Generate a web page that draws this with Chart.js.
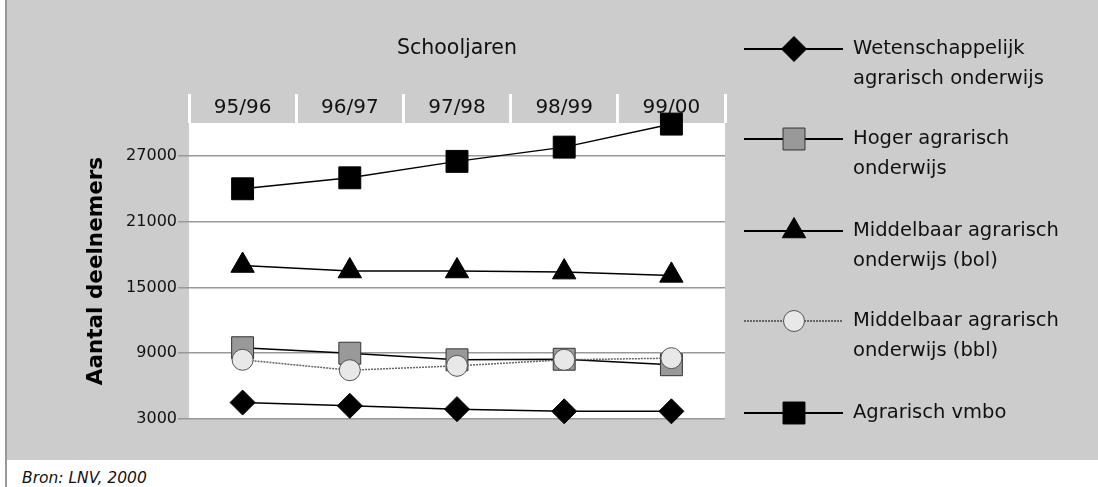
<!DOCTYPE html>
<html>
<head>
<meta charset="utf-8">
<script src="https://cdn.jsdelivr.net/npm/chart.js@4.4.1/dist/chart.umd.min.js"></script>
<style>
  html, body { margin: 0; padding: 0; background: #fff; }
  body { width: 1098px; height: 487px; position: relative; overflow: hidden; font-family: "DejaVu Sans", Verdana, sans-serif; }
  #box { position: absolute; left: 5px; top: 0; width: 1093px; height: 460px; background: #ccc; border-left: 2px solid #999; box-sizing: border-box; }
  #rule { position: absolute; left: 5px; top: 460px; width: 2px; height: 27px; background: #999; }
  #bron { position: absolute; left: 22px; top: 469px; font-size: 15.5px; font-style: italic; color: #111; }
  #grafiek { position: absolute; left: 0; top: 0; }
</style>
</head>
<body>
<div id="box"><canvas id="grafiek" width="1091" height="460"></canvas></div>
<div id="rule"></div>
<div id="bron">Bron: LNV, 2000</div>
<script>
// deelnemers agrarisch onderwijs per schooljaar

const jaren = ["95/96", "96/97", "97/98", "98/99", "99/00"];
const wetenschappelijk = [4500, 4200, 3900, 3700, 3700];
const hoger = [9500, 9000, 8400, 8450, 7950];
const mboBol = [17000, 16500, 16500, 16400, 16100];
const mboBbl = [8400, 7450, 7850, 8400, 8550];
const vmbo = [24000, 25000, 26500, 27800, 29900];
const yTicks = [3000, 9000, 15000, 21000, 27000];
const namen = [
    ["Wetenschappelijk", "agrarisch onderwijs"],
    ["Hoger agrarisch", "onderwijs"],
    ["Middelbaar agrarisch", "onderwijs (bol)"],
    ["Middelbaar agrarisch", "onderwijs (bbl)"],
    ["Agrarisch vmbo"]
];

const FONT = "'DejaVu Sans', Verdana, sans-serif";

function reeks(label, data, stijl) {
    return Object.assign({
        label,
        data,
        borderColor: "#000",
        borderWidth: 1.5,
        pointBorderColor: "#000",
        pointBorderWidth: 1,
        pointHoverRadius: 0,
        tension: 0,
        clip: false,
        order: 1
    }, stijl);
}

const datasets = [
    reeks(namen[0], wetenschappelijk, { pointStyle: "rectRot", pointRadius: 12.5, pointBackgroundColor: "#000" }),
    reeks(namen[1], hoger, { pointStyle: "rect", pointRadius: 15.5, pointBackgroundColor: "#999", pointBorderColor: "#333" }),
    reeks(namen[2], mboBol, { pointStyle: "triangle", pointRadius: 13.5, pointBackgroundColor: "#000" }),
    reeks(namen[3], mboBbl, { pointStyle: "circle", pointRadius: 10.5, pointBackgroundColor: "#e8e8e8", pointBorderColor: "#555",
        borderColor: "#666", borderDash: [2, 1], order: 0 }),
    reeks(namen[4], vmbo, { pointStyle: "rect", pointRadius: 15.5, pointBackgroundColor: "#000" })
];

// wit plotvlak
const plotvlak = {
    id: "plotvlak",
    beforeDraw(chart) {
        const a = chart.chartArea;
        chart.ctx.save();
        chart.ctx.fillStyle = "#fff";
        chart.ctx.fillRect(a.left, a.top, a.right - a.left, a.bottom - a.top);
        chart.ctx.restore();
    }
};

// legenda rechts: lijntje met marker, tekst over twee regels
const legenda = {
    id: "legenda",
    afterDraw(chart) {
        const ctx = chart.ctx;
        const rijen = [49, 139, 231, 321, 413];
        ctx.save();
        chart.data.datasets.forEach((ds, i) => {
            const y = rijen[i];
            ctx.strokeStyle = ds.borderColor;
            ctx.lineWidth = 2;
            ctx.setLineDash(ds.borderDash || []);
            ctx.beginPath();
            ctx.moveTo(737, y);
            ctx.lineTo(836, y);
            ctx.stroke();
            ctx.setLineDash([]);
            ctx.fillStyle = ds.pointBackgroundColor;
            ctx.strokeStyle = ds.pointBorderColor;
            ctx.lineWidth = 1;
            Chart.helpers.drawPoint(ctx, { pointStyle: ds.pointStyle, radius: ds.pointRadius, borderWidth: 1, rotation: 0 }, 787, y);
            ctx.fillStyle = "#111";
            ctx.font = "19.5px " + FONT;
            ctx.textBaseline = "middle";
            ctx.textAlign = "left";
            [].concat(ds.label).forEach((regel, k) => ctx.fillText(regel, 846, y + k * 30));
        });
        ctx.restore();
    }
};

new Chart(document.getElementById("grafiek"), {
    type: "line",
    data: { labels: jaren, datasets },
    options: {
        responsive: false,
        animation: false,
        events: [],
        layout: { padding: { left: 68, top: 28, right: 373, bottom: 41 } },
        plugins: { legend: { display: false }, tooltip: { enabled: false } },
        scales: {
            x: {
                position: "top",
                offset: true,
                afterFit: s => { s.height = 95; },
                border: { display: false },
                grid: { offset: true, drawOnChartArea: false, drawTicks: true, tickLength: 29, color: "#fff", lineWidth: 3 },
                ticks: { color: "#111", font: { family: FONT, size: 20 }, padding: -26 },
                title: { display: true, text: "Schooljaren", color: "#111", font: { family: FONT, size: 20.5 }, padding: { top: 8, bottom: 0 } }
            },
            y: {
                min: 3000,
                max: 30000,
                afterFit: s => { s.width = 114; },
                afterBuildTicks: s => { s.ticks = yTicks.map(v => ({ value: v })); },
                border: { display: false },
                grid: { color: "#999", lineWidth: 1.5, tickLength: 11 },
                ticks: { color: "#111", font: { family: FONT, size: 16 }, padding: 1, callback: v => String(v) },
                title: { display: true, text: "Aantal deelnemers", color: "#000", font: { family: FONT, size: 21.5, weight: "bold" }, padding: { top: 9, bottom: 0 } }
            }
        }
    },
    plugins: [plotvlak, legenda]
});
</script>
</body>
</html>
